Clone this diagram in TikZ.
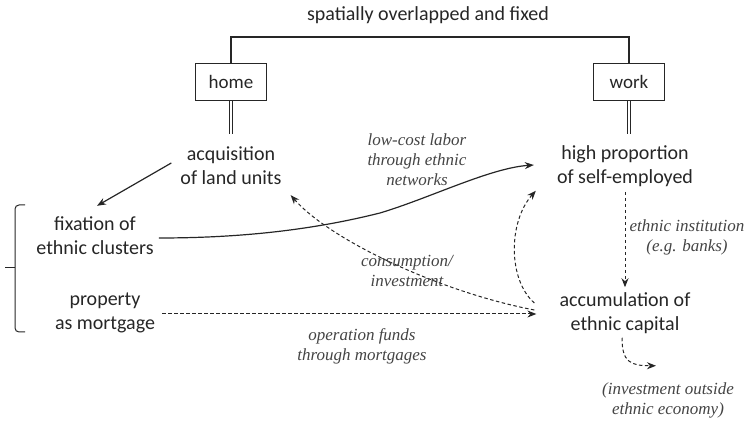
\documentclass[tikz,border=0pt]{standalone}
\usepackage{fontspec}
\setmainfont{Carlito}
\newfontfamily\labfont{Liberation Serif}
\usetikzlibrary{arrows.meta,calc}
\definecolor{ink}{HTML}{262626}
\definecolor{labink}{HTML}{444444}
\begin{document}
\begin{tikzpicture}[x=1pt,y=-1pt,
  every node/.style={text=ink},
  main/.style={align=center,font=\fontsize{20}{24}\selectfont,inner sep=1pt},
  lab/.style={align=center,font=\labfont\itshape\fontsize{17}{20}\selectfont,text=labink,inner sep=0pt},
  boxed/.style={draw=ink,line width=1.2pt,minimum width=71pt,minimum height=37pt,inner sep=0pt,font=\fontsize{19}{23}\selectfont},
  conn/.style={draw=ink,line width=1.2pt},
  arr/.style={conn,-{Stealth[length=9pt,width=7pt]}},
  darr/.style={arr,line width=1pt,dash pattern=on 3.5pt off 2.5pt},
  dline/.style={draw=ink,line width=0.9pt,double,double distance=2.2pt}
]
\useasboundingbox (0,0) rectangle (756,422);
\node[main,font=\fontsize{20}{24}\selectfont] (title) at (428,15) {spatially overlapped and fixed};
\node[boxed] (home) at (231,82) {home};
\node[boxed] (work) at (629,82) {work};
\node[main] (acq) at (231,166) {acquisition\\of land units};
\node[main] (high) at (625,166) {high proportion\\of self-employed};
\node[main] (fix) at (95,236) {fixation of\\ethnic clusters};
\node[main] (prop) at (105,313) {property\\as mortgage};
\node[main] (accum) at (625,313) {accumulation of\\ethnic capital};
\coordinate (topbar) at (430,37);
% top connector
\draw[conn] (home.north) |- (topbar) -| (work.north);
\draw[dline] (home.south) -- ($(home.south)+(0,33)$);
\draw[dline] (work.south) -- ($(work.south)+(0,33)$);
% acquisition -> fixation
\draw[arr] ($(acq.west)+(-8,-3)$) -- ($(fix.north)+(2,-10)$);
% fixation -> high proportion (solid S curve)
\draw[arr] ($(fix.east)+(4,2)$) .. controls (250,238) and (320,228) .. (380,213)
   .. controls (430,198) and (490,168) .. ($(high.west)+(-22,-1)$);
\node[lab] (lowcost) at (417,160) {low-cost labor\\through ethnic\\networks};
% accumulation -> acquisition (dashed)
\draw[darr] ($(accum.west)+(-24,-3)$) .. controls (440,292) and (330,240) .. ($(acq.south east)+(8,9)$);
\node[lab] (cons) at (407,271) {consumption/\\investment};
% property -> accumulation (dashed straight)
\draw[darr] ($(prop.east)+(6,1)$) -- ($(accum.west)+(-22,1)$);
\node[lab] (oper) at (362,346) {operation funds\\through mortgages};
% accumulation -> high proportion (dashed curve)
\draw[darr] ($(accum.west)+(-24,-10)$) .. controls (508,280) and (508,222) .. ($(high.south west)+(-20,3)$);
% high -> accumulation (dashed vertical)
\draw[darr] ($(high.south)+(0,4)$) -- ($(accum.north)+(0,-4)$);
\node[lab] (inst) at (687,237) {ethnic institution\\(e.g. banks)};
% accumulation -> outside
\draw[darr] ($(accum.south)+(-3,3)$) .. controls ($(accum.south)+(-3,27)$) and ($(accum.south)+(5,31)$) .. ($(accum.south)+(31,31)$);
\node[lab] (outside) at (668,400) {(investment outside\\ethnic economy)};
% bracket
\draw[conn,line width=1pt,rounded corners=4pt] (25,205) -- (15,205) -- (15,332) -- (25,332);
\draw[conn,line width=1pt] (15,268) -- (5,268);
\end{tikzpicture}
\end{document}
